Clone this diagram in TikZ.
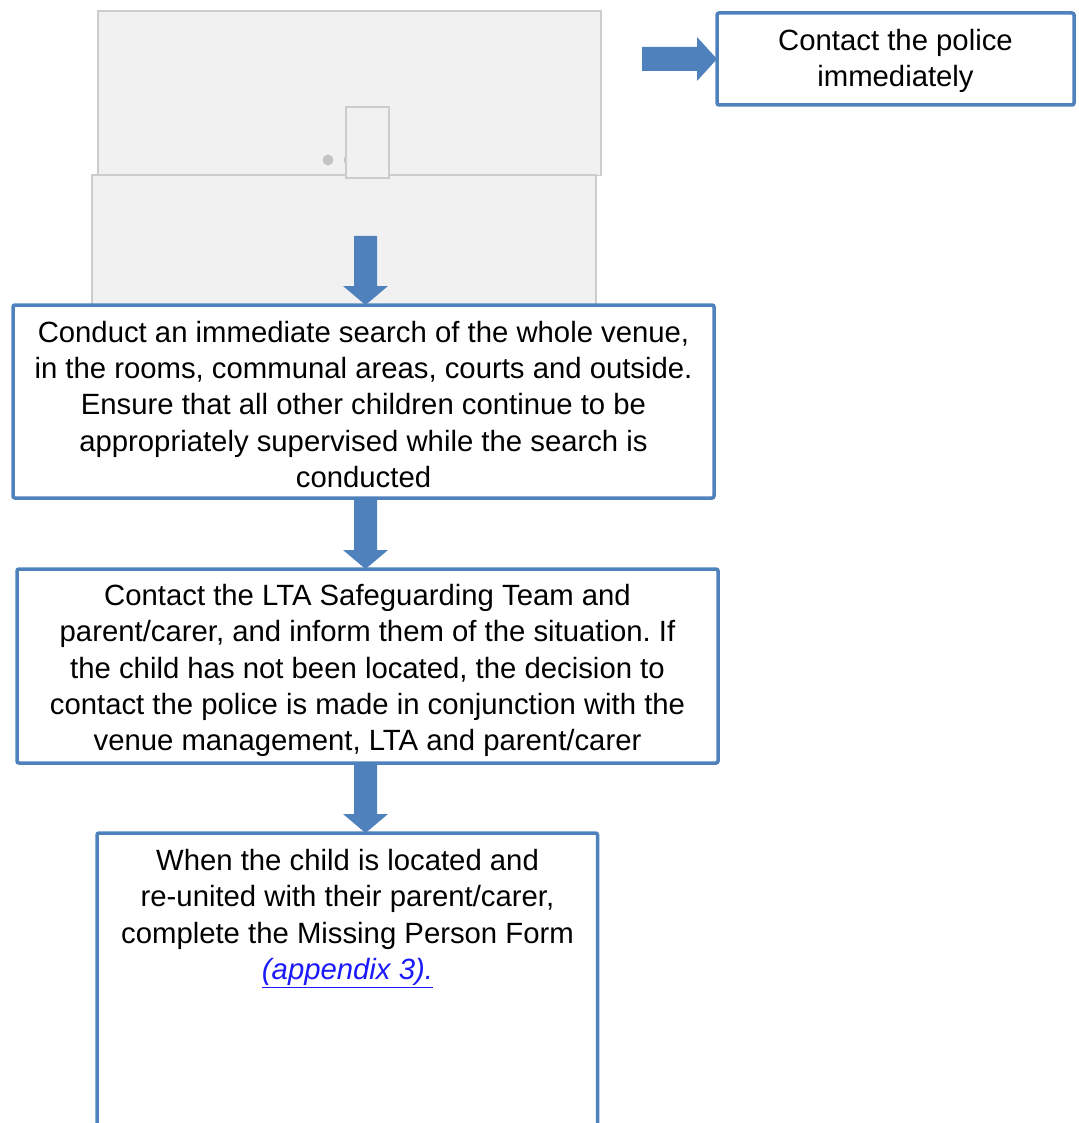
\documentclass[tikz,border=0pt]{standalone}
\usepackage{fontspec}
\setmainfont{Liberation Sans}
\usetikzlibrary{calc}
\frenchspacing
\definecolor{flowblue}{HTML}{4F81BD}
\definecolor{panelgray}{HTML}{F1F1F1}
\definecolor{panelline}{HTML}{CCCCCC}
\definecolor{dotgray}{HTML}{C4C4C4}
\definecolor{linkblue}{HTML}{1A1AFA}
\newcommand\flowdown[2]{%
  \fill[flowblue] let \p1=(#1), \p2=(#2) in
  (\x1-11.5pt,\y1) -- (\x1+11.5pt,\y1) -- (\x1+11.5pt,\y2+19pt) -- (\x1+22.5pt,\y2+19pt)
  -- (\x1,\y2) -- (\x1-22.5pt,\y2+19pt) -- (\x1-11.5pt,\y2+19pt) -- cycle;}
\newcommand\flowright[2]{%
  \fill[flowblue] let \p1=(#1), \p2=(#2) in
  (\x1,\y1-12pt) -- (\x2-20pt,\y1-12pt) -- (\x2-20pt,\y1-22pt) -- (\x2,\y1)
  -- (\x2-20pt,\y1+22pt) -- (\x2-20pt,\y1+12pt) -- (\x1,\y1+12pt) -- cycle;}
\begin{document}
\begin{tikzpicture}[x=1pt,y=-1pt,
  stepbox/.style={draw=flowblue, line width=3.5pt, fill=white, rounded corners=2pt,
    inner sep=0pt, outer sep=0pt},
  panel/.style={draw=panelline, fill=panelgray, line width=1.5pt},
  plaintext/.style={inner sep=0pt, outer sep=0pt, align=center,
    font=\fontsize{29.3}{36.2}\selectfont\frenchspacing}]
\useasboundingbox (0,0) rectangle (1078,1123);
\clip (0,0) rectangle (1078,1123);

% grey background panels
\draw[panel] (98,11) rectangle (601,175.5);
\draw[panel] (92,175) rectangle (596,330);
\fill[dotgray] (328,160) circle (5.5);
\fill[dotgray] (349,160) circle (5.5);
\draw[panel] (346,107) rectangle (389,178);

% boxes
\node[stepbox, minimum width=357, minimum height=92] (pol) at (895.5,59) {};
\node[plaintext, yshift=-2pt] (tp) at (pol.center)
  {Contact the police\\immediately};
\node[stepbox, minimum width=701, minimum height=193] (b1) at (363.5,401.5) {};
\node[plaintext, yshift=-3pt] (t1) at (b1.center)
  {Conduct an immediate search of the whole venue,\\
   in the rooms, communal areas, courts and outside.\\
   Ensure that all other children continue to be\\
   appropriately supervised while the search is\\
   conducted};
\node[stepbox, minimum width=701, minimum height=194] (b2) at (367.5,666) {};
\node[plaintext, yshift=-4.5pt] (t2) at (b2.center)
  {Contact the LTA Safeguarding Team and\\
   parent/carer, and inform them of the situation. If\\
   the child has not been located, the decision to\\
   contact the police is made in conjunction with the\\
   venue management, LTA and parent/carer};
\node[stepbox, minimum width=500.5, minimum height=340] (b3) at (347.25,1003) {};
\node[plaintext, anchor=north] (t3) at (347.5,849.5)
  {When the child is located and\\
   re-united with their parent/carer,\\
   complete the Missing Person Form\\
   \textcolor{linkblue}{\underline{\textit{(appendix 3).}}}};

% connectors
\coordinate (ax) at (365.5,0);
\coordinate (s1) at (365.5,236);
\coordinate (s0) at (642,59);
\flowright{s0}{pol.west}
\flowdown{s1}{ax |- b1.north}
\flowdown{ax |- b1.south}{ax |- b2.north}
\flowdown{ax |- b2.south}{ax |- b3.north}
\end{tikzpicture}
\end{document}
